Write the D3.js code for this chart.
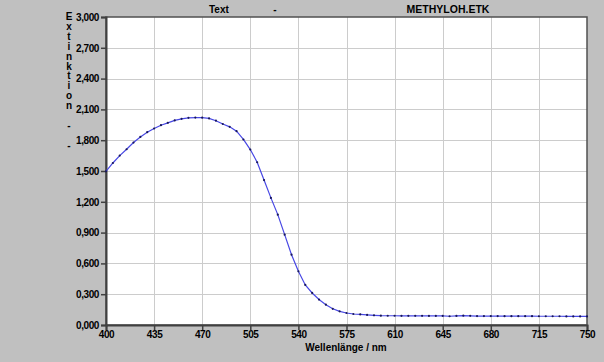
<!DOCTYPE html>
<html>
<head>
<meta charset="utf-8">
<script src="https://cdn.jsdelivr.net/npm/d3@7"></script>
<style>
  body { margin: 0; background: #c0c0c0; }
  svg text { font-family: "Liberation Sans", Arial, sans-serif; font-weight: bold; fill: #000; }
</style>
</head>
<body>
<div id="chart"></div>
<script>
// wavelength (nm) and extinction values
var wavelength = [400, 405, 410, 415, 420, 425, 430, 435, 440, 445, 450, 455, 460, 465, 470, 475,
    480, 485, 490, 495, 500, 505, 510, 515, 520, 525, 530, 535, 540, 545, 550, 555, 560, 565,
    570, 575, 580, 585, 590, 595, 600, 605, 610, 615, 620, 625, 630, 635, 640, 645, 650, 655,
    660, 665, 670, 675, 680, 685, 690, 695, 700, 705, 710, 715, 720, 725, 730, 735, 740, 745, 750];
var extinction = [1.497, 1.578, 1.650, 1.712, 1.777, 1.832, 1.878, 1.914, 1.946, 1.969, 1.993, 2.008,
    2.018, 2.020, 2.019, 2.012, 1.990, 1.958, 1.930, 1.888, 1.807, 1.709, 1.585, 1.412, 1.238, 1.075,
    0.880, 0.685, 0.523, 0.390, 0.312, 0.248, 0.198, 0.158, 0.133, 0.117, 0.107, 0.103, 0.098, 0.094,
    0.091, 0.090, 0.090, 0.089, 0.089, 0.089, 0.089, 0.088, 0.088, 0.088, 0.085, 0.088, 0.091, 0.089,
    0.087, 0.087, 0.087, 0.087, 0.086, 0.086, 0.086, 0.086, 0.086, 0.085, 0.085, 0.085, 0.085, 0.084,
    0.084, 0.084, 0.084];
var xTicks = [400, 435, 470, 505, 540, 575, 610, 645, 680, 715, 750];
var yTicks = [0, 0.3, 0.6, 0.9, 1.2, 1.5, 1.8, 2.1, 2.4, 2.7, 3.0];
var yLabelChars = ["E", "x", "t", "i", "n", "k", "t", "i", "o", "n", "", "-", "", "-"];

var width = 604, height = 362;
var margin = {top: 17, right: 17, bottom: 37, left: 106};

var svg = d3.select("#chart").append("svg").attr("width", width).attr("height", height);

svg.append("rect").attr("width", width).attr("height", height).attr("fill", "#c0c0c0");

var xScale = d3.scaleLinear()
    .domain([400, 750])
    .range([margin.left, width - margin.right]);

var yScale = d3.scaleLinear()
    .domain([0, 3])
    .range([height - margin.bottom, margin.top]);

// plot area
svg.append("rect")
    .attr("x", margin.left).attr("y", margin.top)
    .attr("width", width - margin.left - margin.right)
    .attr("height", height - margin.top - margin.bottom)
    .attr("fill", "white");

// grid
svg.append("g").selectAll("line").data(xTicks.slice(1, -1)).enter().append("line")
    .attr("x1", d => Math.round(xScale(d)) + 0.5).attr("x2", d => Math.round(xScale(d)) + 0.5)
    .attr("y1", margin.top).attr("y2", height - margin.bottom)
    .attr("stroke", "#cccccc").attr("stroke-width", 1);
svg.append("g").selectAll("line").data(yTicks.slice(1, -1)).enter().append("line")
    .attr("y1", d => Math.round(yScale(d)) + 0.5).attr("y2", d => Math.round(yScale(d)) + 0.5)
    .attr("x1", margin.left).attr("x2", width - margin.right)
    .attr("stroke", "#cccccc").attr("stroke-width", 1);

// frame
svg.append("rect")
    .attr("x", margin.left).attr("y", margin.top)
    .attr("width", width - margin.left - margin.right)
    .attr("height", height - margin.top - margin.bottom)
    .attr("fill", "none").attr("stroke", "#505050").attr("stroke-width", 1.5);

var fmt = d3.format(".3f");
var axisy = d3.axisLeft(yScale).tickValues(yTicks).tickSize(5).tickPadding(2)
    .tickFormat(d => fmt(d).replace(".", ","));
var axisx = d3.axisBottom(xScale).tickValues(xTicks).tickSize(5).tickPadding(1)
    .tickFormat(d3.format("d"));

var gy = svg.append("g")
    .attr("transform", "translate(" + margin.left + "," + 0 + ")")
    .call(axisy);
var gx = svg.append("g")
    .attr("transform", "translate(" + 0 + "," + (height - margin.bottom) + ")")
    .call(axisx);

[gx, gy].forEach(g => {
    g.select(".domain").attr("stroke", "#404040").attr("stroke-width", 2);
    g.selectAll(".tick line").attr("stroke", "#404040").attr("stroke-width", 1.5);
    g.selectAll(".tick text").attr("font-size", "10px").attr("letter-spacing", "-0.4px")
        .attr("font-family", "Liberation Sans, Arial, sans-serif")
        .attr("font-weight", "bold").attr("fill", "#000");
});

// y label, stacked letters
svg.append("g").selectAll("text").data(yLabelChars).enter().append("text")
    .attr("x", 69).attr("y", (d, i) => 20 + i * 9.9)
    .attr("text-anchor", "middle")
    .attr("font-size", "10px")
    .text(d => d);

svg.append("text")
    .attr("x", 346).attr("y", 351)
    .attr("text-anchor", "middle")
    .attr("font-size", "10px")
    .text("Wellenlänge / nm");

// header texts
svg.append("text").attr("x", 209).attr("y", 13).attr("font-size", "10px").text("Text");
svg.append("text").attr("x", 275).attr("y", 13).attr("font-size", "10px").attr("text-anchor", "middle").text("-");
svg.append("text").attr("x", 448).attr("y", 13).attr("font-size", "10.5px").attr("text-anchor", "middle").text("METHYLOH.ETK");

// curve
var data = wavelength.map((w, i) => ({coords: [w, extinction[i]]}));

var curveFunc = d3.line()
    .curve(d3.curveLinear)
    .x(function(d) { return xScale(d.coords[0]) })
    .y(function(d) { return yScale(d.coords[1]) });

svg.append("path")
    .attr("d", curveFunc(data))
    .attr("stroke", "#4848e4")
    .attr("stroke-width", 1.2)
    .attr("fill", "none");

svg.append("g")
    .selectAll("circle")
    .data(data)
    .enter()
    .append("circle")
    .attr("cx", function(d) { return xScale(d.coords[0]); })
    .attr("cy", function(d) { return yScale(d.coords[1]); })
    .attr("fill", "#18185a")
    .attr("r", 1.1);
</script>
</body>
</html>
